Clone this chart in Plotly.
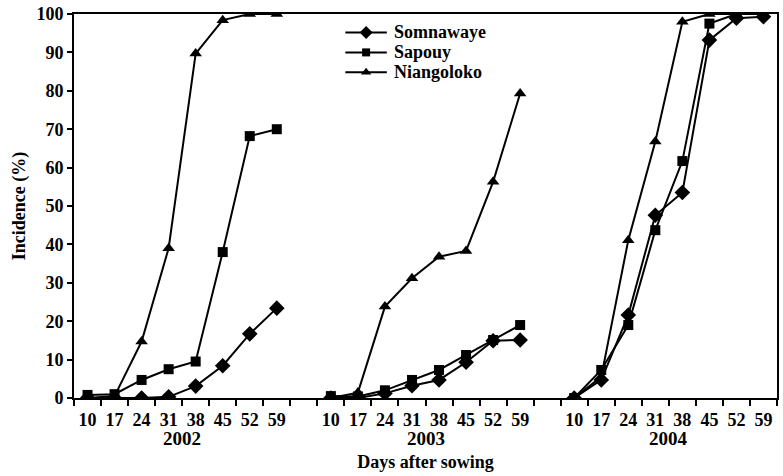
import plotly.graph_objects as go

days = [10, 17, 24, 31, 38, 45, 52, 59]
years = ["2002", "2003", "2004"]

somnawaye = {
    "2002": [0, 0, 0, 0.3, 3.1, 8.4, 16.7, 23.4],
    "2003": [0, 0, 1.2, 3.2, 4.7, 9.3, 14.9, 15.1],
    "2004": [0, 4.7, 21.6, 47.6, 53.5, 93.2, 98.9, 99.3],
}
sapouy = {
    "2002": [0.8, 1.0, 4.7, 7.5, 9.5, 38.0, 68.2, 70.0],
    "2003": [0.5, 0.4, 2.0, 4.7, 7.3, 11.2, 15.1, 19.0],
    "2004": [0, 7.3, 19.0, 43.7, 61.7, 97.5, 100, 100],
}
niangoloko = {
    "2002": [0, 0.5, 14.7, 39.0, 89.7, 98.4, 100, 100],
    "2003": [0, 1.4, 23.8, 31.2, 36.8, 38.3, 56.3, 79.3],
    "2004": [0, 5.5, 41.1, 66.8, 98.0, 100, 100, 100],
}

series = [
    ("Somnawaye", somnawaye, "diamond", 12),
    ("Sapouy", sapouy, "square", 10),
    ("Niangoloko", niangoloko, "triangle-up", 11),
]

n = len(days)
gap = 1
group_start = [g * (n + gap) for g in range(len(years))]

FONT = "Liberation Serif, Times New Roman, Tinos, serif"
FS = 18

fig = go.Figure()
for name, data, sym, size in series:
    for gi, yr in enumerate(years):
        xs = [group_start[gi] + i for i in range(n)]
        fig.add_trace(go.Scatter(
            x=xs, y=data[yr], mode="lines+markers", name=name,
            showlegend=False,
            line=dict(color="black", width=2),
            marker=dict(symbol=sym, size=size, color="black"),
        ))

# custom legend drawn on a hidden overlay axis (0..1 in both directions)
leg_x0, leg_x1, leg_text_x = 0.386, 0.445, 0.452
leg_rows = [0.952, 0.900, 0.848]
for (name, _, sym, size), ry in zip(series, leg_rows):
    fig.add_trace(go.Scatter(
        x=[leg_x0, (leg_x0 + leg_x1) / 2, leg_x1], y=[ry, ry, ry],
        mode="lines", xaxis="x2", yaxis="y2", showlegend=False,
        line=dict(color="black", width=2), hoverinfo="skip",
    ))
    fig.add_trace(go.Scatter(
        x=[(leg_x0 + leg_x1) / 2], y=[ry], mode="markers",
        xaxis="x2", yaxis="y2", showlegend=False, hoverinfo="skip",
        marker=dict(symbol=sym, size=size - 2, color="black"),
    ))
    fig.add_annotation(
        x=leg_text_x, y=ry, xref="x2", yref="y2", text="<b>" + name + "</b>",
        showarrow=False, xanchor="left", yanchor="middle",
        font=dict(family=FONT, size=FS, color="black"),
    )

tickvals, ticktext = [], []
for gi in range(len(years)):
    for i, d in enumerate(days):
        tickvals.append(group_start[gi] + i)
        ticktext.append(str(d))

total = group_start[-1] + n
for gi, yr in enumerate(years):
    fig.add_annotation(
        x=group_start[gi] + (n - 1) / 2, y=0, xref="x", yref="paper",
        text="<b>" + yr + "</b>", showarrow=False, yanchor="top", yshift=-28,
        font=dict(family=FONT, size=19, color="black"),
    )

fig.update_layout(
    width=783, height=476,
    margin=dict(l=74, r=4, t=14, b=78),
    paper_bgcolor="white", plot_bgcolor="white",
    font=dict(family=FONT, size=FS, color="black", weight="bold"),
    showlegend=False,
    xaxis=dict(
        range=[-0.5, total - 0.5],
        tickmode="array", tickvals=tickvals, ticktext=ticktext,
        ticks="outside", ticklen=4, tickcolor="rgba(0,0,0,0)",
        showgrid=False, zeroline=False,
        showline=True, linecolor="black", linewidth=2, mirror=True,
        tickfont=dict(family=FONT, size=FS, color="black", weight="bold"),
        minor=dict(tick0=-0.5, dtick=1, ticks="outside", ticklen=6,
                   tickwidth=2, tickcolor="black", showgrid=False),
        title=dict(text="Days after sowing", standoff=27,
                   font=dict(family=FONT, size=FS, weight="bold")),
    ),
    yaxis=dict(
        range=[0, 100], tickmode="linear", tick0=0, dtick=10,
        ticks="outside", ticklen=5, tickwidth=2, tickcolor="black",
        showgrid=False, zeroline=False,
        showline=True, linecolor="black", linewidth=2, mirror=True,
        tickfont=dict(family=FONT, size=FS, color="black", weight="bold"),
        title=dict(text="Incidence (%)", standoff=6,
                   font=dict(family=FONT, size=FS, weight="bold")),
    ),
    xaxis2=dict(overlaying="x", anchor="y2", range=[0, 1], visible=False),
    yaxis2=dict(overlaying="y", anchor="x2", range=[0, 1], visible=False),
)

fig.write_html("out.html")
